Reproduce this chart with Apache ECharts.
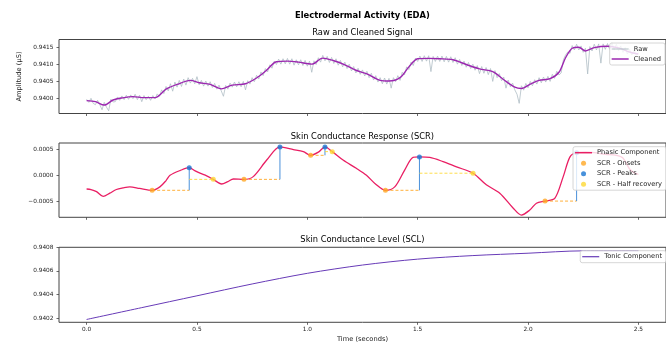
<!DOCTYPE html>
<html><head><meta charset="utf-8">
<script src="https://cdn.jsdelivr.net/npm/echarts@6/dist/echarts.min.js"></script>
<style>html,body{margin:0;padding:0;background:#fff}#c{width:666px;height:347px}</style>
</head><body><div id="c"></div>
<script>
// ---------- DATA ----------
const xTicks = [0, 0.5, 1.0, 1.5, 2.0, 2.5];
const y1Ticks = [0.9400, 0.9405, 0.9410, 0.9415];
const y2Ticks = [-0.0005, 0.0000, 0.0005];
const y3Ticks = [0.9402, 0.9404, 0.9406, 0.9408];

const rawTime = [0,0.01,0.02,0.03,0.04,0.05,0.06,0.07,0.08,0.09,0.10,0.11,0.12,0.13,0.14,0.15,0.16,0.17,0.18,0.19,0.20,0.21,0.22,0.23,0.24,0.25,0.26,0.27,0.28,0.29,0.30,0.31,0.32,0.33,0.34,0.35,0.36,0.37,0.38,0.39,0.40,0.41,0.42,0.43,0.44,0.45,0.46,0.47,0.48,0.49,0.50,0.51,0.52,0.53,0.54,0.55,0.56,0.57,0.58,0.59,0.60,0.61,0.62,0.63,0.64,0.65,0.66,0.67,0.68,0.69,0.70,0.71,0.72,0.73,0.74,0.75,0.76,0.77,0.78,0.79,0.80,0.81,0.82,0.83,0.84,0.85,0.86,0.87,0.88,0.89,0.90,0.91,0.92,0.93,0.94,0.95,0.96,0.97,0.98,0.99,1.00,1.01,1.02,1.03,1.04,1.05,1.06,1.07,1.08,1.09,1.10,1.11,1.12,1.13,1.14,1.15,1.16,1.17,1.18,1.19,1.20,1.21,1.22,1.23,1.24,1.25,1.26,1.27,1.28,1.29,1.30,1.31,1.32,1.33,1.34,1.35,1.36,1.37,1.38,1.39,1.40,1.41,1.42,1.43,1.44,1.45,1.46,1.47,1.48,1.49,1.50,1.51,1.52,1.53,1.54,1.55,1.56,1.57,1.58,1.59,1.60,1.61,1.62,1.63,1.64,1.65,1.66,1.67,1.68,1.69,1.70,1.71,1.72,1.73,1.74,1.75,1.76,1.77,1.78,1.79,1.80,1.81,1.82,1.83,1.84,1.85,1.86,1.87,1.88,1.89,1.90,1.91,1.92,1.93,1.94,1.95,1.96,1.97,1.98,1.99,2.00,2.01,2.02,2.03,2.04,2.05,2.06,2.07,2.08,2.09,2.10,2.11,2.12,2.13,2.14,2.15,2.16,2.17,2.18,2.19,2.20,2.21,2.22,2.23,2.24,2.25,2.26,2.27,2.28,2.29,2.30,2.31,2.32,2.33,2.34,2.35,2.36,2.37,2.38,2.39,2.40,2.41,2.42,2.43,2.44,2.45,2.46,2.47,2.48,2.49,2.50];
const rawValues = [
0.93997,0.93988,0.94000,0.93985,0.93981,0.93994,0.93981,0.93966,0.93988,0.93974,
0.93963,0.93997,0.93989,0.93990,0.94004,0.93994,0.94007,0.93996,0.94009,0.93997,
0.94010,0.93999,0.94012,0.93996,0.94009,0.93990,0.94008,0.93996,0.94006,0.93994,
0.94008,0.93998,0.94013,0.94006,0.94025,0.94014,0.94035,0.94022,0.94043,0.94021,
0.94048,0.94033,0.94053,0.94035,0.94057,0.94039,0.94061,0.94045,0.94059,0.94043,
0.94064,0.94040,0.94053,0.94036,0.94051,0.94036,0.94049,0.94032,0.94044,0.94027,
0.94039,0.94022,0.94006,0.94038,0.94027,0.94045,0.94033,0.94048,0.94034,0.94049,
0.94034,0.94050,0.94025,0.94052,0.94042,0.94061,0.94049,0.94068,0.94057,0.94078,
0.94067,0.94088,0.94078,0.94099,0.94089,0.94110,0.94100,0.94116,0.94101,0.94117,
0.94102,0.94118,0.94101,0.94117,0.94098,0.94114,0.94099,0.94114,0.94097,0.94112,
0.94095,0.94110,0.94077,0.94111,0.94100,0.94120,0.94107,0.94127,0.94111,0.94124,
0.94106,0.94121,0.94103,0.94117,0.94098,0.94112,0.94093,0.94107,0.94088,0.94101,
0.94081,0.94094,0.94075,0.94089,0.94071,0.94084,0.94066,0.94080,0.94061,0.94074,
0.94054,0.94067,0.94048,0.94061,0.94043,0.94060,0.94042,0.94059,0.94030,0.94061,
0.94049,0.94067,0.94053,0.94077,0.94069,0.94093,0.94085,0.94107,0.94097,0.94119,
0.94109,0.94125,0.94109,0.94126,0.94110,0.94126,0.94079,0.94124,0.94109,0.94125,
0.94109,0.94125,0.94108,0.94124,0.94107,0.94123,0.94106,0.94120,0.94101,0.94115,
0.94097,0.94110,0.94092,0.94106,0.94088,0.94101,0.94083,0.94097,0.94073,0.94094,
0.94074,0.94091,0.94070,0.94088,0.94050,0.94082,0.94061,0.94073,0.94052,0.94063,
0.94030,0.94054,0.94034,0.94045,0.94025,0.94012,0.93985,0.94037,0.94024,0.94044,
0.94031,0.94050,0.94037,0.94055,0.94042,0.94061,0.94046,0.94063,0.94048,0.94065,
0.94050,0.94071,0.94059,0.94080,0.94069,0.94075,0.94114,0.94128,0.94137,0.94133,
0.94156,0.94143,0.94160,0.94143,0.94155,0.94136,0.94148,0.94072,0.94153,0.94140,
0.94160,0.94143,0.94161,0.94104,0.94161,0.94145,0.94162,0.94145,0.94164,0.94143,
0.94160,0.94141,0.94155,0.94136,0.94150,0.94131,0.94145,0.94128,0.94142,0.94127,
0.94135];

const cleanTime = [0,0.04,0.08,0.12,0.16,0.21,0.26,0.31,0.36,0.41,0.47,0.51,0.56,0.61,0.66,0.72,0.77,0.81,0.86,0.91,0.96,1.02,1.07,1.12,1.17,1.22,1.27,1.33,1.37,1.42,1.46,1.50,1.55,1.60,1.66,1.72,1.78,1.84,1.89,1.94,1.97,2.01,2.05,2.10,2.14,2.17,2.20,2.23,2.26,2.30,2.36,2.41,2.46,2.50];
const cleanValues = [0.93993,0.93990,0.93980,0.93995,0.94001,0.94005,0.94002,0.94002,0.94027,0.94041,0.94053,0.94046,0.94041,0.94028,0.94039,0.94043,0.94060,0.94080,0.94108,0.94110,0.94107,0.94101,0.94119,0.94111,0.94099,0.94083,0.94072,0.94053,0.94051,0.94061,0.94093,0.94117,0.94118,0.94117,0.94114,0.94100,0.94087,0.94079,0.94055,0.94033,0.94029,0.94042,0.94053,0.94058,0.94077,0.94120,0.94148,0.94151,0.94140,0.94150,0.94154,0.94149,0.94137,0.94131];

const phasicTime = [0,0.02,0.045,0.075,0.105,0.135,0.165,0.196,0.24,0.297,0.332,0.36,0.378,0.423,0.465,0.49,0.514,0.544,0.574,0.612,0.64,0.665,0.713,0.755,0.816,0.876,0.937,0.982,1.015,1.05,1.08,1.113,1.162,1.222,1.268,1.31,1.354,1.396,1.441,1.479,1.508,1.555,1.615,1.676,1.751,1.811,1.872,1.932,1.97,2.008,2.038,2.077,2.121,2.159,2.19,2.22,2.26,2.30,2.35,2.40,2.43,2.46,2.48,2.50];
const phasicValues = [-0.00026,-0.00027,-0.00031,-0.00040,-0.00034,-0.00027,-0.00024,-0.00022,-0.00025,-0.000285,-0.00022,-0.00010,0.0,0.00009,0.000145,0.00009,0.00004,-0.00001,-0.000077,-0.000165,-0.00012,-0.00007,-0.000077,-0.000025,0.00029,0.00054,0.00049,0.00045,0.00038,0.00044,0.00054,0.00045,0.00029,0.000133,0.0,-0.00017,-0.000285,-0.00022,0.0001,0.00034,0.00035,0.00034,0.00026,0.00016,0.00004,-0.00018,-0.00034,-0.00062,-0.000755,-0.00066,-0.00053,-0.00049,-0.00044,-0.00003,0.00035,0.00043,0.00044,0.00043,0.00040,0.00038,0.00033,0.00012,0.00005,0.00002];

const onsetTime = [0.297, 0.713, 1.015, 1.354, 2.077];
const onsetValues = [-0.000285, -0.000077, 0.00038, -0.000285, -0.00049];
const peakTime = [0.465, 0.876, 1.08, 1.508, 2.22];
const peakValues = [0.000145, 0.00054, 0.00054, 0.00035, 0.00043];
// half recovery per peak (null = none)
const halfTime = [0.574, null, 1.113, 1.751, null];
const halfValues = [-0.000077, null, 0.00045, 0.00004, null];

const tonicTime = [0, 0.25, 0.5, 0.75, 1.0, 1.25, 1.5, 1.75, 2.0, 2.25, 2.5];
const tonicValues = [0.94019, 0.94029, 0.94039, 0.94049, 0.94058, 0.94065, 0.94070, 0.94073, 0.94075, 0.94077, 0.94077];

// ---------- CHART ----------
const FONT = 'DejaVu Sans';
const zip = (a, b) => a.map((v, i) => [v, b[i]]).filter(p => p[0] !== null);
const fmtY = v => (v < 0 ? '\u2212' : '') + Math.abs(v).toFixed(4);
const AX = '#444';

const grids = [
  {left: 59, right: 0, top: 39.5, height: 74},
  {left: 59, right: 0, top: 143, height: 74.3},
  {left: 59, right: 0, top: 247.3, height: 75}
].map(g => Object.assign(g, {show: true, borderColor: AX, borderWidth: 1, backgroundColor: 'transparent'}));

const xAxis = [0, 1, 2].map(i => ({
  type: 'value', gridIndex: i, min: -0.125, max: 2.625,
  axisLine: {show: false, onZero: false}, splitLine: {show: false},
  axisTick: {show: true, customValues: xTicks, length: 2.5, lineStyle: {color: AX, width: 0.8}},
  axisLabel: {show: i === 2, customValues: xTicks, formatter: v => v.toFixed(1), margin: 4,
    fontFamily: FONT, fontSize: 5.8, color: '#222'},
  name: i === 2 ? 'Time (seconds)' : '', nameLocation: 'middle', nameGap: 13.5,
  nameTextStyle: {fontFamily: FONT, fontSize: 6.7, color: '#222'}
}));

function yAx(i, min, max, ticks, name) {
  return {
    type: 'value', gridIndex: i, min: min, max: max, scale: true,
    axisLine: {show: false, onZero: false}, splitLine: {show: false},
    axisTick: {show: true, customValues: ticks, length: 2.5, lineStyle: {color: AX, width: 0.8}},
    axisLabel: {customValues: ticks, formatter: fmtY, margin: 5.5,
      fontFamily: FONT, fontSize: 5.8, color: '#222'},
    name: name || '', nameLocation: 'middle', nameGap: 33, nameRotate: 90,
    nameTextStyle: {fontFamily: FONT, fontSize: 6.7, color: '#222'}
  };
}
const yAxis = [
  yAx(0, 0.93955, 0.94174, y1Ticks, 'Amplitude (\u00B5S)'),
  yAx(1, -0.000798, 0.000614, y2Ticks),
  yAx(2, 0.940166, 0.9408, y3Ticks)
];

const series = [
  {name: 'Raw', type: 'line', xAxisIndex: 0, yAxisIndex: 0, data: zip(rawTime, rawValues),
   symbol: 'none', lineStyle: {color: '#B0BEC5', width: 0.8}, itemStyle: {color: '#B0BEC5'}, z: 2},
  {name: 'Cleaned', type: 'line', xAxisIndex: 0, yAxisIndex: 0, data: zip(cleanTime, cleanValues),
   symbol: 'none', smooth: 0.3, lineStyle: {color: '#9C27B0', width: 1.4}, itemStyle: {color: '#9C27B0'}, z: 3},
  {name: 'Phasic Component', type: 'line', xAxisIndex: 1, yAxisIndex: 1, data: zip(phasicTime, phasicValues),
   symbol: 'none', smooth: 0.3, lineStyle: {color: '#E91E63', width: 1.3}, itemStyle: {color: '#E91E63'}, z: 2}
];
// helper segments (onset level, peak amplitude, half recovery level)
onsetTime.forEach((t, i) => {
  series.push({type: 'line', xAxisIndex: 1, yAxisIndex: 1, symbol: 'none', silent: true, z: 3,
    data: [[t, onsetValues[i]], [peakTime[i], onsetValues[i]]],
    lineStyle: {color: '#FFA726', width: 0.9, type: [3, 2]}});
  series.push({type: 'line', xAxisIndex: 1, yAxisIndex: 1, symbol: 'none', silent: true, z: 3,
    data: [[peakTime[i], onsetValues[i]], [peakTime[i], peakValues[i]]],
    lineStyle: {color: '#4A90DA', width: 1}});
  if (halfTime[i] !== null) {
    series.push({type: 'line', xAxisIndex: 1, yAxisIndex: 1, symbol: 'none', silent: true, z: 3,
      data: [[peakTime[i], halfValues[i]], [halfTime[i], halfValues[i]]],
      lineStyle: {color: '#FDD835', width: 0.9, type: [3, 2]}});
  }
});
series.push(
  {name: 'SCR - Onsets', type: 'scatter', xAxisIndex: 1, yAxisIndex: 1, data: zip(onsetTime, onsetValues),
   symbol: 'circle', symbolSize: 5, itemStyle: {color: '#FFA726'}, z: 5},
  {name: 'SCR - Peaks', type: 'scatter', xAxisIndex: 1, yAxisIndex: 1, data: zip(peakTime, peakValues),
   symbol: 'circle', symbolSize: 5, itemStyle: {color: '#1976D2'}, z: 5},
  {name: 'SCR - Half recovery', type: 'scatter', xAxisIndex: 1, yAxisIndex: 1, data: zip(halfTime, halfValues),
   symbol: 'circle', symbolSize: 5, itemStyle: {color: '#FDD835'}, z: 5},
  {name: 'Tonic Component', type: 'line', xAxisIndex: 2, yAxisIndex: 2, data: zip(tonicTime, tonicValues),
   symbol: 'none', smooth: 0.3, lineStyle: {color: '#673AB7', width: 1}, itemStyle: {color: '#673AB7'}, z: 2}
);

const lineIcon = w => 'path://M0,0H17V' + w + 'H0Z';
const legendBase = {
  orient: 'vertical', itemWidth: 17, itemHeight: 5, selectedMode: false, symbolKeepAspect: true,
  padding: [2, 4, 2, 2], backgroundColor: 'rgba(255,255,255,0.8)',
  borderColor: '#ccc', borderWidth: 0.8, borderRadius: 2, z: 10,
  textStyle: {fontFamily: FONT, fontSize: 6.7, color: '#222', lineHeight: 8}
};
const legend = [
  Object.assign({}, legendBase, {right: 1, top: 43, itemGap: 2,
    data: [{name: 'Raw', icon: lineIcon(1)}, {name: 'Cleaned', icon: lineIcon(1.5)}]}),
  Object.assign({}, legendBase, {right: 0, top: 146.7, itemGap: 2.5,
    data: [{name: 'Phasic Component', icon: lineIcon(1.5)}, 'SCR - Onsets', 'SCR - Peaks', 'SCR - Half recovery']}),
  Object.assign({}, legendBase, {right: 0, top: 250.7,
    data: [{name: 'Tonic Component', icon: lineIcon(1.2)}]})
];

const titleText = (text, y, bold, size) => ({
  type: 'text', x: 362.4, y: y, silent: true,
  style: {text: text, fill: '#000', font: (bold ? 'bold ' : '') + size + 'px "DejaVu Sans"',
    align: 'center', verticalAlign: 'middle'}
});

const chart = echarts.init(document.getElementById('c'), null, {renderer: 'canvas'});
chart.setOption({
  animation: false,
  textStyle: {fontFamily: FONT},
  grid: grids, xAxis: xAxis, yAxis: yAxis, series: series, legend: legend,
  graphic: [
    titleText('Electrodermal Activity (EDA)', 15.5, true, 8.4),
    titleText('Raw and Cleaned Signal', 32.5, false, 8.3),
    titleText('Skin Conductance Response (SCR)', 136.5, false, 8.3),
    titleText('Skin Conductance Level (SCL)', 240.3, false, 8.3)
  ]
});
</script>
</body></html>
